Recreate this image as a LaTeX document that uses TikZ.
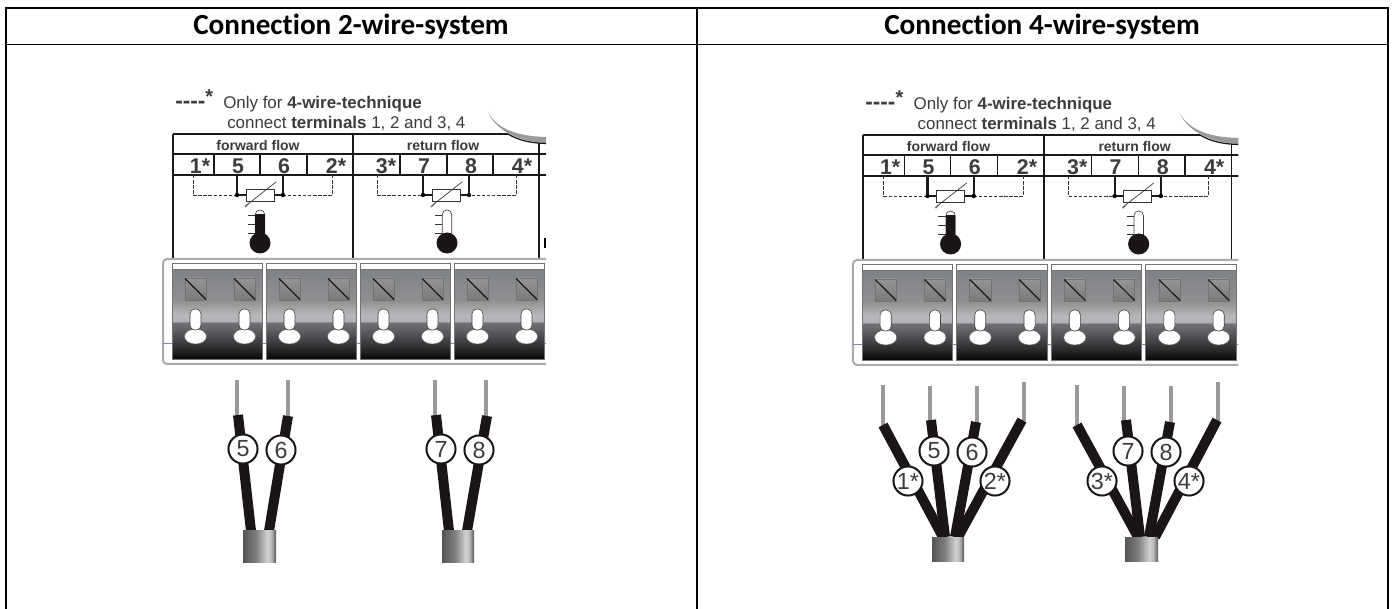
\documentclass[tikz,border=0pt]{standalone}
\usepackage{fontspec}
\setmainfont{Liberation Sans}
\newfontfamily\hdfont[Ligatures=NoCommon]{Carlito}
\definecolor{inkgray}{HTML}{3C3C3C}
\definecolor{framegray}{HTML}{A9ABAE}
\definecolor{wirebare}{HTML}{9A9A9A}
\definecolor{insul}{HTML}{1A1616}
\definecolor{blueline}{HTML}{7C88B4}
\pgfdeclareverticalshading{modshade}{100bp}{
  rgb(0bp)=(.03,.03,.04); rgb(25bp)=(.03,.03,.04); rgb(31bp)=(.17,.17,.18); rgb(45bp)=(.44,.45,.46);
  rgb(45.2bp)=(.36,.36,.4); rgb(45.8bp)=(.70,.70,.72); rgb(49.4bp)=(.72,.72,.73);
  rgb(57.8bp)=(.56,.56,.57); rgb(75bp)=(.50,.51,.52); rgb(100bp)=(.50,.51,.52)}
\pgfdeclarehorizontalshading{jacket}{100bp}{
  rgb(0bp)=(.33,.33,.33); rgb(25bp)=(.33,.33,.33); rgb(45bp)=(.50,.50,.50); rgb(62bp)=(.82,.82,.82);
  rgb(68bp)=(.72,.72,.72); rgb(75bp)=(.33,.33,.33); rgb(100bp)=(.33,.33,.33)}
\tikzset{
  x=0.75pt,y=-0.75pt,
  tbl/.style={line width=1.15pt,black},
  ln/.style={line width=0.95pt,black!90},
  dsh/.style={line width=0.6pt,black!80,dash pattern=on 2.6pt off 1.2pt},
  hd/.style={font=\hdfont\bfseries\fontsize{21.9}{24}\selectfont,inner sep=0pt},
  note/.style={font=\fontsize{12.7}{15}\selectfont,text=inkgray,inner sep=0pt,anchor=base west},
  flow/.style={font=\bfseries\fontsize{10.5}{12}\selectfont,text=inkgray,inner sep=0pt},
  term/.style={font=\bfseries\fontsize{16}{18}\selectfont,text=inkgray,inner sep=0pt},
  bare/.style={line width=3.3pt,wirebare},
  ins/.style={line width=7.5pt,insul},
  tag/.style={circle,draw=insul,fill=white,line width=1.5pt,minimum size=21.8pt,inner sep=0pt,
    font=\fontsize{17.5}{18}\selectfont,text=inkgray},
  module/.style={draw=black!55,line width=0.5pt,shading=modshade},
  screw/.style={draw=black!55,line width=0.4pt,top color=black!42,bottom color=black!52},
  hole/.style={fill=white,draw=black!75,line width=0.45pt},
}
\newcommand{\thermo}[4]{% name, centre x, tick x, fill top
  \draw[line width=0.5pt,black!75,rounded corners=3.4pt,fill=white] (#2-4.7,236) -- (#2-4.7,210) -- (#2+4.7,210) -- (#2+4.7,236);
  \fill[insul] (#2-4.7,#4) rectangle (#2+4.7,238);
  \draw[line width=0.6pt,black!80] (#3,215) -- (#2-4.7,215) (#3,224) -- (#2-4.7,224) (#3,233) -- (#2-4.7,233);
  \fill[insul] (#2,243) circle[radius=10.5];
  \coordinate (#1) at (#2,243);
}
\newcommand{\sensor}[7]{% prefix, dash L, thick L, box L, box R, thick R, dash R
  \coordinate (#1a) at (#3,175); \coordinate (#1b) at (#6,175);
  \coordinate (#1c) at (#2,175); \coordinate (#1d) at (#7,175);
  \coordinate (#1aj) at (#3,195); \coordinate (#1bj) at (#6,195);
  \draw[dsh] (#1c) |- (#1aj);
  \draw[dsh] (#1d) |- (#1bj);
  \draw[line width=1.6pt,black!90] (#1a) -- (#1aj) -- (#4,195);
  \draw[line width=1.6pt,black!90] (#1b) -- (#1bj) -- (#5,195);
  \fill[black] (#1aj) circle[radius=2.2] (#1bj) circle[radius=2.2];
  \draw[line width=0.6pt,black!80,fill=white] (#4,189) rectangle (#5,201);
  \draw[line width=0.5pt,black!80] (#5+2,182) -- (#4+2,204);
  \draw[line width=1.3pt,black!55] (#4+2,204) -- (#4-1,207);
}
\newcommand{\unit}[2]{% prefix, x : one terminal module
  \shade[module] (#2,269) rectangle (#2+90,359);
  \draw[black!55,line width=0.5pt,fill=white] (#2,263) rectangle (#2+90,269);
  \foreach \sx in {13,62}{
    \draw[screw] (#2+\sx,278) rectangle (#2+\sx+21,300);
    \draw[line width=0.9pt,black!90] (#2+\sx,278.5) -- (#2+\sx+21,299.5);
    \fill[white,draw=black!60,line width=.3pt] (#2+\sx+10.5,336.5) ellipse[x radius=11,y radius=7.5];
    \draw[hole,rounded corners=3.6pt] (#2+\sx+5,309) rectangle (#2+\sx+16,330);
  }
}
\newcommand{\panel}[1]{% prefix
  \begin{scope}
    \clip (150,100) rectangle (546,370);
    % arc of the housing
    \fill[wirebare] (488,112) .. controls (497,130) and (520,137) .. (550,137) -- (550,143) .. controls (520,143) and (495,130) .. (488,112) -- cycle;
    \draw[ln] (508,134) .. controls (518,140) and (530,143.5) .. (550,143.5);
    % printed table
    \draw[ln] (173,134) -- (508,134);
    \draw[ln] (173,154) -- (550,154);
    \draw[ln] (173,175) -- (550,175);
    \foreach \vx/\vt in {173/134,353/134,539/143}{\draw[ln] (\vx,\vt) -- (\vx,259);}
    \foreach \vx in {214,260,307,400,447,493}{\draw[ln] (\vx,154) -- (\vx,175);}
    % terminal block
    \draw[framegray,line width=1.5pt,rounded corners=3pt,fill=white] (163,259) rectangle (580,364);
    \draw[blueline,line width=0.5pt] (163,343) -- (550,343);
    \unit{#1u1}{172}\unit{#1u2}{266}\unit{#1u3}{360}\unit{#1u4}{454}
  \end{scope}
  \node[note] (#1n0) at (175,109) {{\bfseries\fontsize{17}{17}\selectfont {-}{-}{-}{-}}\raisebox{4pt}{\bfseries\fontsize{15}{17}\selectfont *}};
  \node[note] (#1n1) at (223,109) {Only for {\bfseries 4-wire-technique}};
  \node[note] (#1n2) at (227,129) {connect {\bfseries terminals} 1, 2 and 3, 4};
  \node[flow] (#1f1) at (258,145) {forward flow};
  \node[flow] (#1f2) at (443,145) {return flow};
  \foreach \tn/\tx/\tl in {a/200/1*,b/238/5,c/284/6,d/336/2*,e/386/3*,f/424/7,g/471/8,h/522/4*}{
    \node[term] (#1t\tn) at (\tx,166) {\tl};
  }
  \sensor{#1s1}{193}{237}{246}{274}{283}{332}
  \sensor{#1s2}{377}{423}{432}{460}{469}{516}
  \thermo{#1th1}{260}{248}{214}
  \thermo{#1th2}{447}{435}{235}
}
\begin{document}
\begin{tikzpicture}
\useasboundingbox (0,0) rectangle (1392,609);
\fill[white] (0,0) rectangle (1392,609);
% outer table
\coordinate (tl) at (6,8); \coordinate (tr) at (1388,8);
\coordinate (hl) at (6,44.5); \coordinate (hr) at (1388,44.5);
\coordinate (bl) at (6,609); \coordinate (br) at (1388,609);
\coordinate (tm) at (697,8); \coordinate (bm) at (697,609);
\draw[tbl] (bl) -- (tl) -- (tr) -- (br);
\draw[tbl] (hl) -- (hr);
\draw[tbl] (tm) -- (bm);
\node[hd] (h1) at (351,26.5) {Connection 2-wire-system};
\node[hd] (h2) at (1042,26.5) {Connection 4-wire-system};
% left panel
\panel{L}
\fill[black] (544,238) rectangle (546,248);
% right panel
\begin{scope}[shift={(689,1)},xscale=1.006]
\panel{R}
\end{scope}
% cables
\foreach \n/\bx/\bt/\bb/\ix/\it/\ox/\oy/\cx/\cy/\lab in {
  w5/237/380/415/238/415/251/531/243/449/5,
  w6/288/380/416/288/416/269/531/281/450/6,
  w7/435/380/415/436/415/449/531/441/449/7,
  w8/486/380/416/487/416/467/531/479/450/8,
  x1/883/385/426/883/425/943/537/908/481/1*,
  x5/930/386/421/931/420/945/537/934/451/5,
  x6/977/386/423/976/422/955/537/972/452/6,
  x2/1024/382/421/1022/420/958/537/995/481/2*,
  x3/1077/385/426/1077/425/1138/537/1102/481/3*,
  x7/1124/386/421/1126/420/1140/537/1128/451/7,
  x8/1171/386/423/1170/422/1149/537/1166/452/8,
  x4/1218/382/421/1217/420/1155/537/1189/481/4*}{
  \coordinate (\n t) at (\bx,\bt);
  \coordinate (\n b) at (\bx,\bb);
  \coordinate (\n i) at (\ix,\it);
  \coordinate (\n o) at (\ox,\oy);
  \draw[bare] (\n t) -- (\n b);
  \draw[ins] (\n i) -- (\n o);
  \node[tag] (\n c) at (\cx,\cy) {\lab};
}
\foreach \jn/\ja/\jb/\jc/\jd in {j1/243/276/530/562,j2/442/474/530/562,j3/932/964/537/561,j4/1125/1158/537/561}{
  \shade[shading=jacket] (\ja,\jc) rectangle (\jb,\jd);
  \coordinate (\jn) at (\ja,\jc);
}
\end{tikzpicture}
\end{document}
